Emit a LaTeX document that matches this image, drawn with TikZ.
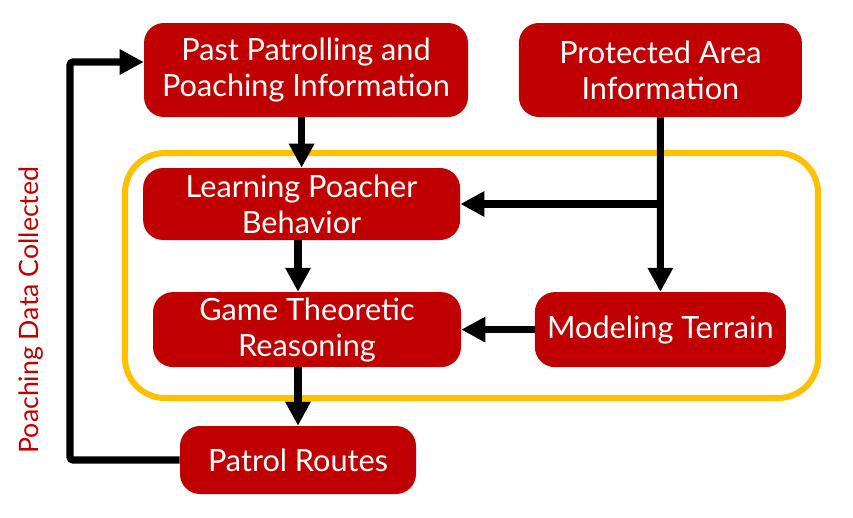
\documentclass[tikz,border=0pt]{standalone}
\usepackage{xcolor}
\usepackage{fontspec}
\setmainfont{Lato}
\usepackage{tikz}
\usetikzlibrary{arrows.meta}

\definecolor{boxred}{HTML}{C00000}
\definecolor{frameyellow}{HTML}{FFC000}

\begin{document}
\begin{tikzpicture}[node distance=2cm, auto]
    % Define styles
    \tikzstyle{block} = [rectangle, rounded corners=0.5cm, text centered, align=center, fill=boxred, text=white, inner sep=0pt, font=\fontsize{21.8}{25.6}\selectfont]
    \tikzstyle{arrow} = [line width=5pt, -{Triangle[length=0.6cm,width=0.6cm]}]

    \useasboundingbox (0,0) rectangle (21.325,-12.925);

    % Nodes
    \node [block, minimum width=8.1cm, minimum height=2.35cm] (past) at (7.65,-1.75) {Past Patrolling and\\Poaching Information};
    \node [block, minimum width=7.075cm, minimum height=2.35cm, right of=past, xshift=6.86cm] (protected) {Protected Area\\Information};
    \node [block, minimum width=7.925cm, minimum height=1.8cm, below of=past, xshift=-0.11cm, yshift=-1.35cm] (learn) {Learning Poacher\\Behavior};
    \node [block, minimum width=7.7cm, minimum height=1.875cm, below of=learn, xshift=0.135cm, yshift=-1.14cm] (game) {Game Theoretic\\Reasoning};
    \node [block, minimum width=6.275cm, minimum height=1.875cm, right of=game, xshift=6.835cm] (terrain) {Modeling Terrain};
    \node [block, minimum width=5.9cm, minimum height=1.7cm, below of=game, xshift=-0.225cm, yshift=-1.26cm] (patrol) {Patrol Routes};

    % Frame round the reasoning part
    \draw [frameyellow, line width=4.3pt, rounded corners=1cm] (3.125,-3.825) rectangle (20.45,-9.95);

    % Feedback label
    \node [rotate=90, text=boxred, font=\fontsize{19}{22}\selectfont] (collected) at (0.78,-7.75) {Poaching Data Collected};

    % Helper points
    \coordinate (loop) at (1.75,-1.55);
    \coordinate (branch) at (protected.south |- learn.east);

    % Arrows
    \draw [arrow] (learn.north |- past.south) -- (learn.north);
    \draw [arrow] (protected.south) -- (terrain.north);
    \draw [arrow] (branch) -- (learn.east);
    \draw [arrow] (terrain.west) -- (game.east);
    \draw [arrow] (patrol.north |- learn.south) -- (patrol.north |- game.north);
    \draw [arrow] (patrol.north |- game.south) -- (patrol.north);
    \draw [arrow, rounded corners=2pt] (patrol.west) -| (loop) -- (loop -| past.west);

\end{tikzpicture}
\end{document}
